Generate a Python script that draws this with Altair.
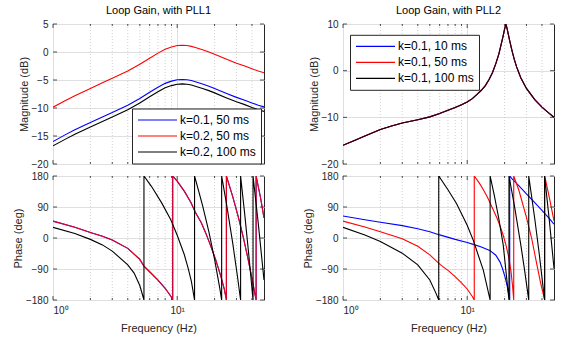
import altair as alt
import pandas as pd

FONT = "Liberation Sans"
INK = "#262626"
GRID = "#dfdfdf"
MINOR = "#c4c4c4"

# ---------------- data ----------------
PLL1_LABELS = ["k=0.1, 50 ms", "k=0.2, 50 ms", "k=0.2, 100 ms"]
PLL2_LABELS = ["k=0.1, 10 ms", "k=0.1, 50 ms", "k=0.1, 100 ms"]
COLORS = ["#0000ff", "#ff0000", "#000000"]

# PLL1 magnitude (dB)
MAG1_F = [1, 1.25, 1.5, 2, 2.5, 3, 4, 5, 6, 7, 8, 9, 10, 11, 12, 13, 14, 16, 18, 20, 25, 30, 35, 40, 45, 50]
MAG1_K01_50 = [-16.0, -14.8, -13.9, -12.6, -11.6, -10.8, -9.5, -8.3, -7.2, -6.3, -5.6, -5.2, -4.95, -4.9, -4.95,
               -5.1, -5.3, -5.7, -6.1, -6.5, -7.4, -8.1, -8.6, -9.1, -9.5, -9.8]
MAG1_K02_50 = [-9.85, -8.7, -7.8, -6.5, -5.5, -4.7, -3.4, -2.2, -1.1, -0.2, 0.5, 0.9, 1.15, 1.2, 1.15,
               1.0, 0.8, 0.4, 0.0, -0.4, -1.3, -2.0, -2.5, -3.0, -3.4, -3.7]
MAG1_K02_100 = [-16.75, -15.6, -14.7, -13.4, -12.4, -11.6, -10.3, -9.1, -8.0, -7.1, -6.4, -6.0, -5.75, -5.7, -5.75,
                -5.9, -6.1, -6.5, -6.9, -7.3, -8.2, -8.9, -9.4, -9.9, -10.3, -10.6]

# PLL2 magnitude (dB) - the three curves coincide
MAG2_F = [1, 1.25, 1.5, 2, 2.5, 3, 4, 5, 6, 7, 8, 9, 10, 11, 12, 13, 14, 15, 16, 17, 18, 19, 19.5, 20,
          20.5, 21, 21.5, 22, 23, 24, 25, 27, 30, 35, 40, 45, 50]
MAG2 = [-16.0, -14.9, -14.0, -12.6, -11.8, -11.2, -10.5, -9.9, -9.2, -8.5, -7.9, -7.3, -6.7, -6.0, -5.1, -4.2,
        -3.2, -1.9, -0.4, 1.5, 3.6, 6.2, 7.5, 8.9, 10.0, 8.9, 7.6, 6.4, 4.2, 2.3, 0.8, -1.5, -3.8, -6.2, -7.8,
        -9.0, -10.0]

# PLL1 phase (deg), 50 ms (both k) and 100 ms
PH1_50_F = [1, 1.5, 2, 2.5, 3, 4, 5, 5.4, 6, 7, 8, 9, 9.2, 9.2, 10, 11.4, 12.9, 14, 15.6, 17, 18.7, 20.5,
            22.5, 24, 24.9, 24.9, 28, 31, 34, 37, 40, 43.2, 43.2, 47, 50]
PH1_50 = [49, 31, 16, 5, -6, -30, -62, -82, -98, -122, -146, -172, -180, 180, 165, 136, 103, 75, 45, 14, -25,
          -65, -112, -150, -180, 180, 120, 62, 3, -57, -117, -180, 180, 115, 58]
PH1_100_F = [1, 1.5, 2, 2.5, 3, 4, 4.5, 5, 5.4, 5.4, 6.2, 7.5, 8.9, 10, 11.4, 12.2, 13, 13.8, 13.8, 16, 18, 20,
             22, 22.8, 22.8, 25, 28, 30.5, 32.4, 32.4, 35, 38, 40.8, 40.8, 45, 50]
PH1_100 = [31, 13, -4, -20, -38, -78, -102, -138, -180, 180, 150, 102, 52, 8, -48, -85, -125, -180, 180, 95, 18,
           -62, -145, -180, 180, 97, -15, -109, -180, 180, 68, -61, -180, 180, 41, -122]

# PLL2 phase (deg)
PH2_10_F = [1, 1.5, 2, 3, 4, 5, 6, 8, 10, 11.2, 13, 15.2, 17, 18.4, 19.3, 20.2, 21, 21.5, 22, 22, 23, 26, 30,
            35, 40, 45, 50]
PH2_10 = [64, 53, 45.5, 36, 27, 18, 9, -4, -13, -18.5, -26, -36, -50, -70, -90, -114, -140, -160, -180, 180,
          172, 152, 128, 103, 80, 60, 40]
PH2_50_F = [1, 1.5, 2, 3, 4, 5, 6, 7, 8, 9, 10, 11, 11.4, 11.4, 12.5, 13.5, 14.5, 16.2, 17.5, 18.5, 19.5, 20.5,
            21.5, 22.5, 23.2, 23.7, 23.7, 26, 30, 33, 36.3, 39, 42.1, 42.1, 46, 50]
PH2_50 = [49, 32, 18, -2, -24, -49, -76, -94, -112, -130, -148, -170, -180, 180, 160, 140, 120, 82, 55, 32, 8,
          -20, -52, -95, -140, -180, 180, 140, 60, 0, -75, -130, -180, 180, 115, 50]
PH2_100_F = [1, 1.5, 2, 3, 4, 5, 5.6, 5.9, 5.9, 7, 8.2, 10, 11.2, 13.5, 15.3, 15.3, 16.5, 18, 19.5, 20.5, 21.7,
             21.7, 24, 27, 29, 31.3, 31.3, 35, 38, 42, 42, 46, 50]
PH2_100 = [31, 9, -10, -44, -78, -122, -160, -180, 180, 140, 100, 37, -7, -94, -180, 180, 125, 55, -20, -95,
           -180, 180, 94, -19, -94, -180, 180, 56, -45, -180, 180, 46, -88]

# axis ticks / grid
X_MAJOR = [1, 10]
X_MINOR = [2, 3, 4, 5, 6, 7, 8, 9, 20, 30, 40]
MAG1_TICKS = [-20, -15, -10, -5, 0, 5]
MAG2_TICKS = [-20, -10, 0, 10]
PHASE_TICKS = [-180, -90, 0, 90, 180]

W = 211
H_MAG = 140
H_PH = 124


def sdf(freqs, vals, name):
    return pd.DataFrame({"f": freqs, "v": vals, "series": name, "i": list(range(len(freqs)))})


def make_legend(x, y):
    return alt.Legend(title=None, orient="none", legendX=x, legendY=y, symbolType="stroke", symbolSize=1521,
                      symbolStrokeWidth=1.2, clipHeight=13, rowPadding=3, labelOffset=2, padding=5,
                      labelFont=FONT, labelFontSize=12, labelColor="#000000", strokeColor=INK,
                      fillColor="#ffffff", labelLimit=300, symbolOpacity=1)


def panel(series, names, ydom, yticks, H, ytitle, bottom, title=None, legend=None, opac=None):
    xscale = alt.Scale(type="log", domain=[1, 50], nice=False)
    yscale = alt.Scale(domain=ydom, nice=False, zero=False)
    xaxis_kw = dict(values=X_MAJOR, grid=True, gridColor=GRID, gridWidth=1, ticks=False, domain=False,
                    labels=bottom, labelPadding=5, titlePadding=7)
    if bottom:
        xaxis_kw["labelExpr"] = "datum.value == 1 ? '10\u2070' : '10\u00b9'"
    X = alt.X("f:Q", scale=xscale, axis=alt.Axis(**xaxis_kw),
              title="Frequency  (Hz)" if bottom else None)
    Y = alt.Y("v:Q", scale=yscale, title=ytitle,
              axis=alt.Axis(values=yticks, grid=True, gridColor=GRID, gridWidth=1, ticks=False, domain=False,
                            labelPadding=5, titlePadding=2))
    minor_df = pd.DataFrame({"f": X_MINOR})
    major_df = pd.DataFrame({"f": X_MAJOR})
    yt_df = pd.DataFrame({"v": yticks})

    layers = [
        alt.Chart(minor_df).mark_rule(color=MINOR, strokeDash=[1, 2], strokeWidth=0.8).encode(x=X),
        alt.Chart(minor_df).mark_rule(color=INK, strokeWidth=0.8).encode(x=X, y=alt.value(H), y2=alt.value(H - 2)),
        alt.Chart(minor_df).mark_rule(color=INK, strokeWidth=0.8).encode(x=X, y=alt.value(0), y2=alt.value(2)),
        alt.Chart(major_df).mark_rule(color=INK, strokeWidth=0.8).encode(x=X, y=alt.value(H), y2=alt.value(H - 4)),
        alt.Chart(major_df).mark_rule(color=INK, strokeWidth=0.8).encode(x=X, y=alt.value(0), y2=alt.value(4)),
        alt.Chart(yt_df).mark_rule(color=INK, strokeWidth=0.8).encode(y=Y, x=alt.value(0), x2=alt.value(4)),
        alt.Chart(yt_df).mark_rule(color=INK, strokeWidth=0.8).encode(y=Y, x=alt.value(W), x2=alt.value(W - 4)),
    ]
    cscale = alt.Scale(domain=names, range=COLORS)
    for k, df in enumerate(series):
        mk = dict(strokeWidth=1.1, clip=True)
        if opac is not None and opac[k] < 1:
            mk["strokeOpacity"] = opac[k]
        if legend is not None:
            col = alt.Color("series:N", scale=cscale, legend=legend)
        else:
            col = alt.Color("series:N", scale=cscale, legend=None)
        layers.append(alt.Chart(df).mark_line(**mk).encode(x=X, y=Y, order=alt.Order("i:Q"), color=col))
    props = dict(width=W, height=H)
    if title is not None:
        props["title"] = alt.TitleParams(title, font=FONT, fontSize=11, fontWeight="normal", color="#000000",
                                         anchor="middle", offset=3)
    return alt.layer(*layers).properties(**props)


mag1 = panel([sdf(MAG1_F, MAG1_K01_50, PLL1_LABELS[0]), sdf(MAG1_F, MAG1_K02_50, PLL1_LABELS[1]),
              sdf(MAG1_F, MAG1_K02_100, PLL1_LABELS[2])], PLL1_LABELS, [-20, 5], MAG1_TICKS, H_MAG,
             "Magnitude (dB)", False, title="Loop Gain, with PLL1", legend=make_legend(79, 84.5))
ph1 = panel([sdf(PH1_50_F, PH1_50, PLL1_LABELS[0]), sdf(PH1_50_F, PH1_50, PLL1_LABELS[1]),
             sdf(PH1_100_F, PH1_100, PLL1_LABELS[2])], PLL1_LABELS, [-180, 180], PHASE_TICKS, H_PH,
            "Phase (deg)", True, opac=[1, 0.9, 1])
mag2 = panel([sdf(MAG2_F, MAG2, PLL2_LABELS[0]), sdf(MAG2_F, MAG2, PLL2_LABELS[1]),
              sdf(MAG2_F, MAG2, PLL2_LABELS[2])], PLL2_LABELS, [-20, 10], MAG2_TICKS, H_MAG,
             "Magnitude (dB)", False, title="Loop Gain, with PLL2", opac=[1, 1, 0.85],
             legend=make_legend(7, 10.8))
ph2 = panel([sdf(PH2_10_F, PH2_10, PLL2_LABELS[0]), sdf(PH2_50_F, PH2_50, PLL2_LABELS[1]),
             sdf(PH2_100_F, PH2_100, PLL2_LABELS[2])], PLL2_LABELS, [-180, 180], PHASE_TICKS, H_PH,
            "Phase (deg)", True)

left = alt.vconcat(mag1, ph1, spacing=0).resolve_scale(color="independent", x="independent", y="independent")
right = alt.vconcat(mag2, ph2, spacing=0).resolve_scale(color="independent", x="independent", y="independent")

chart = (
    alt.hconcat(left, right, spacing=36)
    .resolve_scale(color="independent", x="independent", y="independent")
    .properties(padding={"left": 11, "top": 4, "right": 5, "bottom": 0}, background="white")
    .configure_view(stroke=INK, strokeWidth=1)
    .configure_axis(labelFont=FONT, titleFont=FONT, labelFontSize=10, titleFontSize=11, labelColor=INK,
                    titleColor=INK, titleFontWeight="normal")
)

chart.save("out.html", embed_options={"renderer": "svg", "actions": False})
